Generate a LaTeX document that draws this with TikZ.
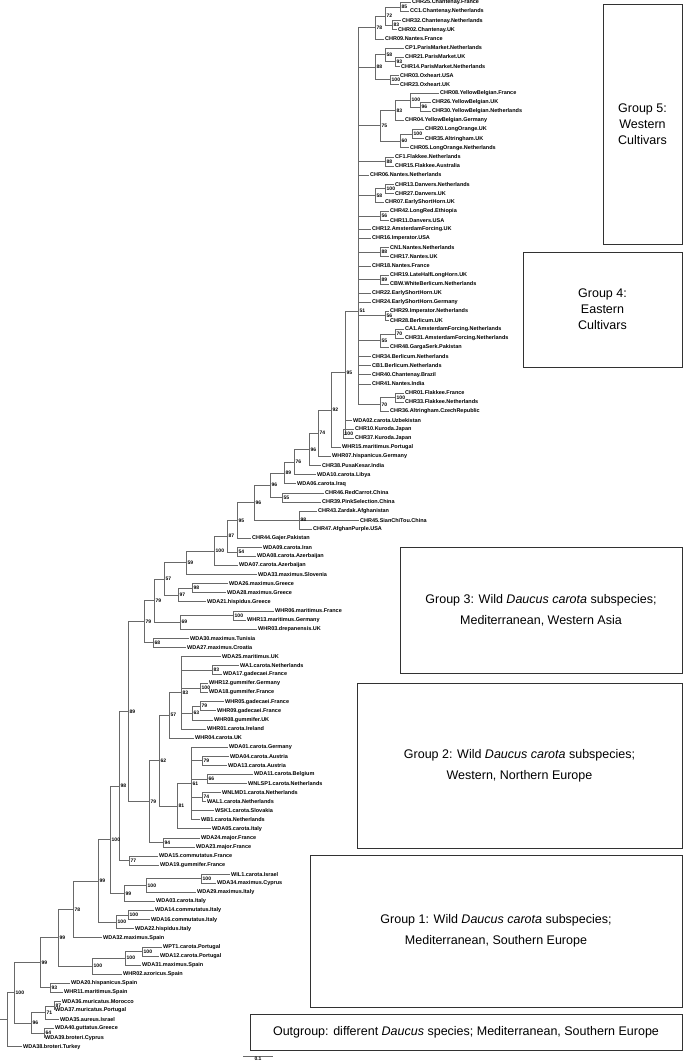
\documentclass[tikz,border=0pt]{standalone}
\usepackage{fontspec}
\setmainfont{Liberation Sans}
\usepackage{tikz}
\usepackage{xcolor}
\definecolor{treegray}{RGB}{105,105,105}
\definecolor{boxgray}{RGB}{50,50,50}
\newcommand{\leaffont}{\fontsize{5.5}{6}\selectfont\bfseries}
\newcommand{\bootfont}{\fontsize{5}{6}\selectfont\bfseries}
\newcommand{\groupfont}{\fontsize{12.5}{16}\selectfont}

\begin{document}
\begin{tikzpicture}[
    leaf/.style={anchor=west, inner sep=1pt, font=\leaffont},
    boot/.style={anchor=west, inner sep=0pt, xshift=1.5pt, font=\bootfont},
    branch/.style={draw=treegray, line width=0.6pt},
    groupbox/.style={draw=boxgray, line width=0.7pt, align=center, font=\groupfont}
]
\useasboundingbox (0,0) rectangle (685pt,-1064pt);

\begin{scope}[x=1pt, y=-9.08pt, yshift=6.58pt]
    % leaves, top to bottom
    \node[leaf] (CHR25) at (411,1) {CHR25.Chantenay.France};
    \node[leaf] (CC1) at (409,2) {CC1.Chantenay.Netherlands};
    \node[leaf] (CHR32) at (401,3) {CHR32.Chantenay.Netherlands};
    \node[leaf] (CHR02) at (397,4) {CHR02.Chantenay.UK};
    \node[leaf] (CHR09) at (384,5) {CHR09.Nantes.France};
    \node[leaf] (CP1) at (404,6) {CP1.ParisMarket.Netherlands};
    \node[leaf] (CHR21) at (404,7) {CHR21.ParisMarket.UK};
    \node[leaf] (CHR14) at (400,8) {CHR14.ParisMarket.Netherlands};
    \node[leaf] (CHR03) at (399,9) {CHR03.Oxheart.USA};
    \node[leaf] (CHR23) at (399,10) {CHR23.Oxheart.UK};
    \node[leaf] (CHR08) at (439,11) {CHR08.YellowBelgian.France};
    \node[leaf] (CHR26) at (431,12) {CHR26.YellowBelgian.UK};
    \node[leaf] (CHR30) at (431,13) {CHR30.YellowBelgian.Netherlands};
    \node[leaf] (CHR04) at (404,14) {CHR04.YellowBelgian.Germany};
    \node[leaf] (CHR20) at (424,15) {CHR20.LongOrange.UK};
    \node[leaf] (CHR35) at (424,16) {CHR35.Altringham.UK};
    \node[leaf] (CHR05) at (409,17) {CHR05.LongOrange.Netherlands};
    \node[leaf] (CF1) at (394,18) {CF1.Flakkee.Netherlands};
    \node[leaf] (CHR15) at (394,19) {CHR15.Flakkee.Australia};
    \node[leaf] (CHR06) at (369,20) {CHR06.Nantes.Netherlands};
    \node[leaf] (CHR13) at (394,21) {CHR13.Danvers.Netherlands};
    \node[leaf] (CHR27) at (394,22) {CHR27.Danvers.UK};
    \node[leaf] (CHR07) at (384,23) {CHR07.EarlyShortHorn.UK};
    \node[leaf] (CHR42) at (389,24) {CHR42.LongRed.Ethiopia};
    \node[leaf] (CHR11) at (389,25) {CHR11.Danvers.USA};
    \node[leaf] (CHR12) at (371,26) {CHR12.AmsterdamForcing.UK};
    \node[leaf] (CHR16) at (371,27) {CHR16.Imperator.USA};
    \node[leaf] (CN1) at (389,28) {CN1.Nantes.Netherlands};
    \node[leaf] (CHR17) at (389,29) {CHR17.Nantes.UK};
    \node[leaf] (CHR18) at (371,30) {CHR18.Nantes.France};
    \node[leaf] (CHR19) at (389,31) {CHR19.LateHalfLongHorn.UK};
    \node[leaf] (CBW) at (389,32) {CBW.WhiteBerlicum.Netherlands};
    \node[leaf] (CHR22) at (371,33) {CHR22.EarlyShortHorn.UK};
    \node[leaf] (CHR24) at (371,34) {CHR24.EarlyShortHorn.Germany};
    \node[leaf] (CHR29) at (389,35) {CHR29.Imperator.Netherlands};
    \node[leaf] (CHR28) at (389,36) {CHR28.Berlicum.UK};
    \node[leaf] (CA1) at (404,37) {CA1.AmsterdamForcing.Netherlands};
    \node[leaf] (CHR31) at (404,38) {CHR31.AmsterdamForcing.Netherlands};
    \node[leaf] (CHR48) at (389,39) {CHR48.GargaSerk.Pakistan};
    \node[leaf] (CHR34) at (371,40) {CHR34.Berlicum.Netherlands};
    \node[leaf] (CB1) at (371,41) {CB1.Berlicum.Netherlands};
    \node[leaf] (CHR40) at (371,42) {CHR40.Chantenay.Brazil};
    \node[leaf] (CHR41) at (371,43) {CHR41.Nantes.India};
    \node[leaf] (CHR01) at (404,44) {CHR01.Flakkee.France};
    \node[leaf] (CHR33) at (404,45) {CHR33.Flakkee.Netherlands};
    \node[leaf] (CHR36) at (389,46) {CHR36.Altringham.CzechRepublic};
    \node[leaf] (WDA02) at (352,47) {WDA02.carota.Uzbekistan};
    \node[leaf] (CHR10) at (354,48) {CHR10.Kuroda.Japan};
    \node[leaf] (CHR37) at (354,49) {CHR37.Kuroda.Japan};
    \node[leaf] (WHR15) at (341,50) {WHR15.maritimus.Portugal};
    \node[leaf] (WHR07) at (331,51) {WHR07.hispanicus.Germany};
    \node[leaf] (CHR38) at (321,52) {CHR38.PusaKesar.India};
    \node[leaf] (WDA10) at (316,53) {WDA10.carota.Libya};
    \node[leaf] (WDA06) at (296,54) {WDA06.carota.Iraq};
    \node[leaf] (CHR46) at (324,55) {CHR46.RedCarrot.China};
    \node[leaf] (CHR39) at (321,56) {CHR39.PinkSelection.China};
    \node[leaf] (CHR43) at (317,57) {CHR43.Zardak.Afghanistan};
    \node[leaf] (CHR45) at (359,58) {CHR45.SianChiTou.China};
    \node[leaf] (CHR47) at (312,59) {CHR47.AfghanPurple.USA};
    \node[leaf] (CHR44) at (251,60) {CHR44.Gajer.Pakistan};
    \node[leaf] (WDA09) at (262,61) {WDA09.carota.Iran};
    \node[leaf] (WDA08) at (256,62) {WDA08.carota.Azerbaijan};
    \node[leaf] (WDA07) at (238,63) {WDA07.carota.Azerbaijan};
    \node[leaf] (WDA33) at (257,64) {WDA33.maximus.Slovenia};
    \node[leaf] (WDA26) at (228,65) {WDA26.maximus.Greece};
    \node[leaf] (WDA28) at (226,66) {WDA28.maximus.Greece};
    \node[leaf] (WDA21) at (206,67) {WDA21.hispidus.Greece};
    \node[leaf] (WHR06) at (274,68) {WHR06.maritimus.France};
    \node[leaf] (WHR13) at (246,69) {WHR13.maritimus.Germany};
    \node[leaf] (WHR03) at (257,70) {WHR03.drepanensis.UK};
    \node[leaf] (WDA30) at (189,71) {WDA30.maximus.Tunisia};
    \node[leaf] (WDA27) at (186,72) {WDA27.maximus.Croatia};
    \node[leaf] (WDA25) at (221,73) {WDA25.maritimus.UK};
    \node[leaf] (WA1) at (239,74) {WA1.carota.Netherlands};
    \node[leaf] (WDA17) at (222,75) {WDA17.gadecaei.France};
    \node[leaf] (WHR12) at (208,76) {WHR12.gummifer.Germany};
    \node[leaf] (WDA18) at (208,77) {WDA18.gummifer.France};
    \node[leaf] (WHR05) at (224,78) {WHR05.gadecaei.France};
    \node[leaf] (WHR09) at (216,79) {WHR09.gadecaei.France};
    \node[leaf] (WHR08) at (213,80) {WHR08.gummifer.UK};
    \node[leaf] (WHR01) at (206,81) {WHR01.carota.Ireland};
    \node[leaf] (WHR04) at (194,82) {WHR04.carota.UK};
    \node[leaf] (WDA01) at (228,83) {WDA01.carota.Germany};
    \node[leaf] (WDA04) at (229,84) {WDA04.carota.Austria};
    \node[leaf] (WDA13) at (227,85) {WDA13.carota.Austria};
    \node[leaf] (WDA11) at (253,86) {WDA11.carota.Belgium};
    \node[leaf] (WNLSP1) at (247,87) {WNLSP1.carota.Netherlands};
    \node[leaf] (WNLMD1) at (221,88) {WNLMD1.carota.Netherlands};
    \node[leaf] (WAL1) at (206,89) {WAL1.carota.Netherlands};
    \node[leaf] (WSK1) at (214,90) {WSK1.carota.Slovakia};
    \node[leaf] (WB1) at (200,91) {WB1.carota.Netherlands};
    \node[leaf] (WDA05) at (211,92) {WDA05.carota.Italy};
    \node[leaf] (WDA24) at (200,93) {WDA24.major.France};
    \node[leaf] (WDA23) at (195,94) {WDA23.major.France};
    \node[leaf] (WDA15) at (158,95) {WDA15.commutatus.France};
    \node[leaf] (WDA19) at (159,96) {WDA19.gummifer.France};
    \node[leaf] (WIL1) at (230,97) {WIL1.carota.Israel};
    \node[leaf] (WDA34) at (216,98) {WDA34.maximus.Cyprus};
    \node[leaf] (WDA29) at (196,99) {WDA29.maximus.Italy};
    \node[leaf] (WDA03) at (155,100) {WDA03.carota.Italy};
    \node[leaf] (WDA14) at (154,101) {WDA14.commutatus.Italy};
    \node[leaf] (WDA16) at (150,102) {WDA16.commutatus.Italy};
    \node[leaf] (WDA22) at (134,103) {WDA22.hispidus.Italy};
    \node[leaf] (WDA32) at (102,104) {WDA32.maximus.Spain};
    \node[leaf] (WPT1) at (162,105) {WPT1.carota.Portugal};
    \node[leaf] (WDA12) at (159,106) {WDA12.carota.Portugal};
    \node[leaf] (WDA31) at (141,107) {WDA31.maximus.Spain};
    \node[leaf] (WHR02) at (122,108) {WHR02.azoricus.Spain};
    \node[leaf] (WDA20) at (70,109) {WDA20.hispanicus.Spain};
    \node[leaf] (WHR11) at (63,110) {WHR11.maritimus.Spain};
    \node[leaf] (WDA36) at (61,111) {WDA36.muricatus.Morocco};
    \node[leaf] (WDA37) at (54,112) {WDA37.muricatus.Portugal};
    \node[leaf] (WDA35) at (59,113) {WDA35.aureus.Israel};
    \node[leaf] (WDA40) at (54,114) {WDA40.guttatus.Greece};
    \node[leaf] (WDA39) at (44,115) {WDA39.broteri.Cyprus};
    \node[leaf] (WDA38) at (22,116) {WDA38.broteri.Turkey};

    % internal nodes
    \coordinate (n85t) at (400,1.5);
    \coordinate (n83t) at (392,3.5);
    \coordinate (n72t) at (385,2.5);
    \coordinate (n78t) at (375,3.75);
    \coordinate (n93p) at (395,7.5);
    \coordinate (n58p) at (385,6.75);
    \coordinate (n100o) at (390,9.5);
    \coordinate (n88p) at (375,8.125);
    \coordinate (n96y) at (420,12.5);
    \coordinate (n100y) at (410,11.75);
    \coordinate (n83y) at (395,12.875);
    \coordinate (n100l) at (412,15.5);
    \coordinate (n60l) at (400,16.25);
    \coordinate (n75y) at (380,14.5625);
    \coordinate (n88f) at (385,18.5);
    \coordinate (n100n) at (385,21.5);
    \coordinate (n58d) at (375,22.25);
    \coordinate (n56e) at (380,24.5);
    \coordinate (n88n) at (380,28.5);
    \coordinate (n89c) at (380,31.5);
    \coordinate (n56b) at (385,35.5);
    \coordinate (n70c) at (395,37.5);
    \coordinate (n55c) at (380,38.25);
    \coordinate (n100q) at (395,44.5);
    \coordinate (n70f) at (380,45.25);
    \coordinate (n51) at (358,35.0);
    \coordinate (n100k) at (343,48.5);
    \coordinate (n95) at (345,41.76);
    \coordinate (n92) at (331,45.88);
    \coordinate (n74) at (318,48.44);
    \coordinate (n96a) at (309,50.22);
    \coordinate (n76) at (294,51.61);
    \coordinate (n89) at (284,52.8);
    \coordinate (n55) at (282,55.5);
    \coordinate (n96b) at (270,54.15);
    \coordinate (n98x) at (299,58);
    \coordinate (n96c) at (254,56.08);
    \coordinate (n95b) at (237,58.04);
    \coordinate (n54) at (237,61.5);
    \coordinate (n87) at (227,59.77);
    \coordinate (n100a) at (214,61.39);
    \coordinate (n59) at (186,62.69);
    \coordinate (n98b) at (192,65.5);
    \coordinate (n97) at (178,66.25);
    \coordinate (n57a) at (164,64.47);
    \coordinate (n100b) at (233,68.5);
    \coordinate (n69) at (180,69.25);
    \coordinate (n79a) at (154,66.86);
    \coordinate (n68) at (153,71.5);
    \coordinate (n79b) at (144,69.18);
    \coordinate (n83b) at (212,74.5);
    \coordinate (n100c) at (200,76.5);
    \coordinate (n79c) at (200,78.5);
    \coordinate (n63) at (192,79.25);
    \coordinate (n83a) at (181,77);
    \coordinate (n57b) at (169,79.5);
    \coordinate (n79e) at (202,84.5);
    \coordinate (n66) at (207,86.5);
    \coordinate (n74b) at (202,88.5);
    \coordinate (n61) at (191,87);
    \coordinate (n81) at (177,89.5);
    \coordinate (n62) at (159,84.5);
    \coordinate (n94) at (163,93.5);
    \coordinate (n79d) at (149,89);
    \coordinate (n89b) at (128,79.09);
    \coordinate (n77) at (129,95.5);
    \coordinate (n98c) at (119,87.3);
    \coordinate (n100f) at (201,97.5);
    \coordinate (n100e) at (146,98.25);
    \coordinate (n99b) at (124,99.13);
    \coordinate (n100d) at (110,93.21);
    \coordinate (n100h) at (128,101.5);
    \coordinate (n100g) at (116,102.25);
    \coordinate (n99c) at (98,97.73);
    \coordinate (n78b) at (73,100.87);
    \coordinate (n100m) at (142,105.5);
    \coordinate (n100j) at (125,106.25);
    \coordinate (n100i) at (92,107.13);
    \coordinate (n99d) at (58,104);
    \coordinate (n93) at (50,109.5);
    \coordinate (n99e) at (40,106.75);
    \coordinate (n87b) at (54,111.5);
    \coordinate (n71) at (45,112.25);
    \coordinate (n64) at (44,114.5);
    \coordinate (n96d) at (31,113.38);
    \coordinate (n100r) at (14,110.06);
    \coordinate (nroot) at (7,113.03);
    \coordinate (rootstub) at (0,113.03);

    % branches
    \draw[branch] (n85t) |- (CHR25.west) (n85t) |- (CC1.west);
    \draw[branch] (n83t) |- (CHR32.west) (n83t) |- (CHR02.west);
    \draw[branch] (n72t) |- (n85t) (n72t) |- (n83t);
    \draw[branch] (n78t) |- (n72t) (n78t) |- (CHR09.west);
    \draw[branch] (n93p) |- (CHR21.west) (n93p) |- (CHR14.west);
    \draw[branch] (n58p) |- (CP1.west) (n58p) |- (n93p);
    \draw[branch] (n100o) |- (CHR03.west) (n100o) |- (CHR23.west);
    \draw[branch] (n88p) |- (n58p) (n88p) |- (n100o);
    \draw[branch] (n96y) |- (CHR26.west) (n96y) |- (CHR30.west);
    \draw[branch] (n100y) |- (CHR08.west) (n100y) |- (n96y);
    \draw[branch] (n83y) |- (n100y) (n83y) |- (CHR04.west);
    \draw[branch] (n100l) |- (CHR20.west) (n100l) |- (CHR35.west);
    \draw[branch] (n60l) |- (n100l) (n60l) |- (CHR05.west);
    \draw[branch] (n75y) |- (n83y) (n75y) |- (n60l);
    \draw[branch] (n88f) |- (CF1.west) (n88f) |- (CHR15.west);
    \draw[branch] (n100n) |- (CHR13.west) (n100n) |- (CHR27.west);
    \draw[branch] (n58d) |- (n100n) (n58d) |- (CHR07.west);
    \draw[branch] (n56e) |- (CHR42.west) (n56e) |- (CHR11.west);
    \draw[branch] (n88n) |- (CN1.west) (n88n) |- (CHR17.west);
    \draw[branch] (n89c) |- (CHR19.west) (n89c) |- (CBW.west);
    \draw[branch] (n56b) |- (CHR29.west) (n56b) |- (CHR28.west);
    \draw[branch] (n70c) |- (CA1.west) (n70c) |- (CHR31.west);
    \draw[branch] (n55c) |- (n70c) (n55c) |- (CHR48.west);
    \draw[branch] (n100q) |- (CHR01.west) (n100q) |- (CHR33.west);
    \draw[branch] (n70f) |- (n100q) (n70f) |- (CHR36.west);
    \draw[branch] (n51) |- (n78t) (n51) |- (n88p) (n51) |- (n75y) (n51) |- (n88f)
        (n51) |- (CHR06.west) (n51) |- (n58d) (n51) |- (n56e) (n51) |- (CHR12.west)
        (n51) |- (CHR16.west) (n51) |- (n88n) (n51) |- (CHR18.west) (n51) |- (n89c)
        (n51) |- (CHR22.west) (n51) |- (CHR24.west) (n51) |- (n56b) (n51) |- (n55c)
        (n51) |- (CHR34.west) (n51) |- (CB1.west) (n51) |- (CHR40.west)
        (n51) |- (CHR41.west) (n51) |- (n70f);
    \draw[branch] (n100k) |- (CHR10.west) (n100k) |- (CHR37.west);
    \draw[branch] (n95) |- (n51) (n95) |- (WDA02.west) (n95) |- (n100k);
    \draw[branch] (n92) |- (n95) (n92) |- (WHR15.west);
    \draw[branch] (n74) |- (n92) (n74) |- (WHR07.west);
    \draw[branch] (n96a) |- (n74) (n96a) |- (CHR38.west);
    \draw[branch] (n76) |- (n96a) (n76) |- (WDA10.west);
    \draw[branch] (n89) |- (n76) (n89) |- (WDA06.west);
    \draw[branch] (n55) |- (CHR46.west) (n55) |- (CHR39.west);
    \draw[branch] (n96b) |- (n89) (n96b) |- (n55);
    \draw[branch] (n98x) |- (CHR43.west) (n98x) |- (CHR45.west) (n98x) |- (CHR47.west);
    \draw[branch] (n96c) |- (n96b) (n96c) |- (n98x);
    \draw[branch] (n95b) |- (n96c) (n95b) |- (CHR44.west);
    \draw[branch] (n54) |- (WDA09.west) (n54) |- (WDA08.west);
    \draw[branch] (n87) |- (n95b) (n87) |- (n54);
    \draw[branch] (n100a) |- (n87) (n100a) |- (WDA07.west);
    \draw[branch] (n59) |- (n100a) (n59) |- (WDA33.west);
    \draw[branch] (n98b) |- (WDA26.west) (n98b) |- (WDA28.west);
    \draw[branch] (n97) |- (n98b) (n97) |- (WDA21.west);
    \draw[branch] (n57a) |- (n59) (n57a) |- (n97);
    \draw[branch] (n100b) |- (WHR06.west) (n100b) |- (WHR13.west);
    \draw[branch] (n69) |- (n100b) (n69) |- (WHR03.west);
    \draw[branch] (n79a) |- (n57a) (n79a) |- (n69);
    \draw[branch] (n68) |- (WDA30.west) (n68) |- (WDA27.west);
    \draw[branch] (n79b) |- (n79a) (n79b) |- (n68);
    \draw[branch] (n83b) |- (WA1.west) (n83b) |- (WDA17.west);
    \draw[branch] (n100c) |- (WHR12.west) (n100c) |- (WDA18.west);
    \draw[branch] (n79c) |- (WHR05.west) (n79c) |- (WHR09.west);
    \draw[branch] (n63) |- (n79c) (n63) |- (WHR08.west);
    \draw[branch] (n83a) |- (WDA25.west) (n83a) |- (n83b) (n83a) |- (n100c)
        (n83a) |- (n63) (n83a) |- (WHR01.west);
    \draw[branch] (n57b) |- (n83a) (n57b) |- (WHR04.west);
    \draw[branch] (n79e) |- (WDA04.west) (n79e) |- (WDA13.west);
    \draw[branch] (n66) |- (WDA11.west) (n66) |- (WNLSP1.west);
    \draw[branch] (n74b) |- (WNLMD1.west) (n74b) |- (WAL1.west);
    \draw[branch] (n61) |- (WDA01.west) (n61) |- (n79e) (n61) |- (n66)
        (n61) |- (n74b) (n61) |- (WSK1.west) (n61) |- (WB1.west);
    \draw[branch] (n81) |- (n61) (n81) |- (WDA05.west);
    \draw[branch] (n62) |- (n57b) (n62) |- (n81);
    \draw[branch] (n94) |- (WDA24.west) (n94) |- (WDA23.west);
    \draw[branch] (n79d) |- (n62) (n79d) |- (n94);
    \draw[branch] (n89b) |- (n79b) (n89b) |- (n79d);
    \draw[branch] (n77) |- (WDA15.west) (n77) |- (WDA19.west);
    \draw[branch] (n98c) |- (n89b) (n98c) |- (n77);
    \draw[branch] (n100f) |- (WIL1.west) (n100f) |- (WDA34.west);
    \draw[branch] (n100e) |- (n100f) (n100e) |- (WDA29.west);
    \draw[branch] (n99b) |- (n100e) (n99b) |- (WDA03.west);
    \draw[branch] (n100d) |- (n98c) (n100d) |- (n99b);
    \draw[branch] (n100h) |- (WDA14.west) (n100h) |- (WDA16.west);
    \draw[branch] (n100g) |- (n100h) (n100g) |- (WDA22.west);
    \draw[branch] (n99c) |- (n100d) (n99c) |- (n100g);
    \draw[branch] (n78b) |- (n99c) (n78b) |- (WDA32.west);
    \draw[branch] (n100m) |- (WPT1.west) (n100m) |- (WDA12.west);
    \draw[branch] (n100j) |- (n100m) (n100j) |- (WDA31.west);
    \draw[branch] (n100i) |- (n100j) (n100i) |- (WHR02.west);
    \draw[branch] (n99d) |- (n78b) (n99d) |- (n100i);
    \draw[branch] (n93) |- (WDA20.west) (n93) |- (WHR11.west);
    \draw[branch] (n99e) |- (n99d) (n99e) |- (n93);
    \draw[branch] (n87b) |- (WDA36.west) (n87b) |- (WDA37.west);
    \draw[branch] (n71) |- (n87b) (n71) |- (WDA35.west);
    \draw[branch] (n64) |- (WDA40.west) (n64) |- (WDA39.west);
    \draw[branch] (n96d) |- (n71) (n96d) |- (n64);
    \draw[branch] (n100r) |- (n99e) (n100r) |- (n96d);
    \draw[branch] (rootstub) -- (nroot) (nroot) |- (n100r) (nroot) |- (WDA38.west);

    % bootstrap values
    \node[boot] (b85t) at (n85t) {85};
    \node[boot] (b83t) at (n83t) {83};
    \node[boot] (b72t) at (n72t) {72};
    \node[boot] (b78t) at (n78t) {78};
    \node[boot] (b93p) at (n93p) {93};
    \node[boot] (b58p) at (n58p) {58};
    \node[boot] (b100o) at (n100o) {100};
    \node[boot] (b88p) at (n88p) {88};
    \node[boot] (b96y) at (n96y) {96};
    \node[boot] (b100y) at (n100y) {100};
    \node[boot] (b83y) at (n83y) {83};
    \node[boot] (b100l) at (n100l) {100};
    \node[boot] (b60l) at (n60l) {60};
    \node[boot] (b75y) at (n75y) {75};
    \node[boot] (b88f) at (n88f) {88};
    \node[boot] (b100n) at (n100n) {100};
    \node[boot] (b58d) at (n58d) {58};
    \node[boot] (b56e) at (n56e) {56};
    \node[boot] (b88n) at (n88n) {88};
    \node[boot] (b89c) at (n89c) {89};
    \node[boot] (b56b) at (n56b) {56};
    \node[boot] (b70c) at (n70c) {70};
    \node[boot] (b55c) at (n55c) {55};
    \node[boot] (b100q) at (n100q) {100};
    \node[boot] (b70f) at (n70f) {70};
    \node[boot] (b51) at (n51) {51};
    \node[boot] (b100k) at (n100k) {100};
    \node[boot] (b95) at (n95) {95};
    \node[boot] (b92) at (n92) {92};
    \node[boot] (b74) at (n74) {74};
    \node[boot] (b96a) at (n96a) {96};
    \node[boot] (b76) at (n76) {76};
    \node[boot] (b89) at (n89) {89};
    \node[boot] (b55) at (n55) {55};
    \node[boot] (b96b) at (n96b) {96};
    \node[boot] (b98x) at (n98x) {98};
    \node[boot] (b96c) at (n96c) {96};
    \node[boot] (b95b) at (n95b) {95};
    \node[boot] (b54) at (n54) {54};
    \node[boot] (b87) at (n87) {87};
    \node[boot] (b100a) at (n100a) {100};
    \node[boot] (b59) at (n59) {59};
    \node[boot] (b98b) at (n98b) {98};
    \node[boot] (b97) at (n97) {97};
    \node[boot] (b57a) at (n57a) {57};
    \node[boot] (b100b) at (n100b) {100};
    \node[boot] (b69) at (n69) {69};
    \node[boot] (b79a) at (n79a) {79};
    \node[boot] (b68) at (n68) {68};
    \node[boot] (b79b) at (n79b) {79};
    \node[boot] (b83b) at (n83b) {83};
    \node[boot] (b100c) at (n100c) {100};
    \node[boot] (b79c) at (n79c) {79};
    \node[boot] (b63) at (n63) {63};
    \node[boot] (b83a) at (n83a) {83};
    \node[boot] (b57b) at (n57b) {57};
    \node[boot] (b79e) at (n79e) {79};
    \node[boot] (b66) at (n66) {66};
    \node[boot] (b74b) at (n74b) {74};
    \node[boot] (b61) at (n61) {61};
    \node[boot] (b81) at (n81) {81};
    \node[boot] (b62) at (n62) {62};
    \node[boot] (b94) at (n94) {94};
    \node[boot] (b79d) at (n79d) {79};
    \node[boot] (b89b) at (n89b) {89};
    \node[boot] (b77) at (n77) {77};
    \node[boot] (b98c) at (n98c) {98};
    \node[boot] (b100f) at (n100f) {100};
    \node[boot] (b100e) at (n100e) {100};
    \node[boot] (b99b) at (n99b) {99};
    \node[boot] (b100d) at (n100d) {100};
    \node[boot] (b100h) at (n100h) {100};
    \node[boot] (b100g) at (n100g) {100};
    \node[boot] (b99c) at (n99c) {99};
    \node[boot] (b78b) at (n78b) {78};
    \node[boot] (b100m) at (n100m) {100};
    \node[boot] (b100j) at (n100j) {100};
    \node[boot] (b100i) at (n100i) {100};
    \node[boot] (b99d) at (n99d) {99};
    \node[boot] (b93) at (n93) {93};
    \node[boot] (b99e) at (n99e) {99};
    \node[boot] (b87b) at (n87b) {87};
    \node[boot] (b71) at (n71) {71};
    \node[boot] (b64) at (n64) {64};
    \node[boot] (b96d) at (n96d) {96};
    \node[boot] (b100r) at (n100r) {100};
\end{scope}

% group boxes
\node[groupbox, minimum width=79pt, minimum height=240pt] (grp5) at (642.5pt,-124pt) {Group 5:\\Western\\Cultivars};
\node[groupbox, minimum width=159pt, minimum height=115pt] (grp4) at (602.5pt,-309.5pt) {Group 4:\\Eastern\\Cultivars};
\node[groupbox, minimum width=282pt, minimum height=126pt] (grp3) at (541pt,-610pt) {Group 3: Wild \textit{Daucus carota} subspecies;\\[5pt]Mediterranean, Western Asia};
\node[groupbox, minimum width=325pt, minimum height=165pt] (grp2) at (519.5pt,-765.5pt) {Group 2: Wild \textit{Daucus carota} subspecies;\\[5pt]Western, Northern Europe};
\node[groupbox, minimum width=372pt, minimum height=152pt] (grp1) at (496pt,-931pt) {Group 1: Wild \textit{Daucus carota} subspecies;\\[5pt]Mediterranean, Southern Europe};
\node[groupbox, minimum width=432pt, minimum height=36pt] (grp0) at (466pt,-1032pt) {Outgroup: different \textit{Daucus} species; Mediterranean, Southern Europe};

% scale bar
\coordinate (sbl) at (243pt,-1056pt);
\coordinate (sbr) at (273pt,-1056pt);
\draw[branch] (sbl) -- node[below=1pt, font=\bootfont, inner sep=0pt] (sbt) {0.1} (sbr);
\end{tikzpicture}
\end{document}
